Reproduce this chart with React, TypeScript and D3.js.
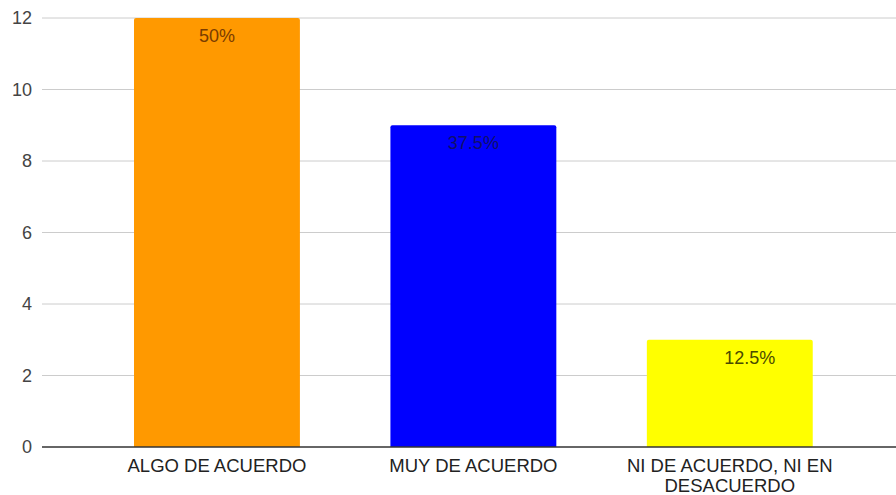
import React from "react";
import * as d3 from "d3";

const categories = ["ALGO DE ACUERDO", "MUY DE ACUERDO", "NI DE ACUERDO, NI EN DESACUERDO"];
const categoryLines = [["ALGO DE ACUERDO"], ["MUY DE ACUERDO"], ["NI DE ACUERDO, NI EN", "DESACUERDO"]];
const values = [12, 9, 3];
const percentLabels = ["50%", "37.5%", "12.5%"];
const barColors = ["#ff9900", "#0000ff", "#ffff00"];
const labelColors = ["#7a3c00", "#10106a", "#4a4a00"];
const labelOffsets = [0, 0, 20];
const yTicks = [0, 2, 4, 6, 8, 10, 12];

const W = 896;
const H = 495;
const gridLeft = 42;
const gridRight = 896;

export default function App() {
  const y = d3.scaleLinear().domain([0, 12]).range([447, 18]);
  const x = d3.scaleBand<string>().domain(categories).range([88.75, 858]).paddingInner(0.353).paddingOuter(0.1765);
  const font = "Arial, 'Liberation Sans', sans-serif";
  return (
    <svg width={W} height={H} style={{ position: "absolute", left: 0, top: 0 }} fontFamily={font}>
      <rect width={W} height={H} fill="#fff" />
      {yTicks.map((t) => (
        <g key={t}>
          {t !== 0 && (
            <line x1={gridLeft} x2={gridRight} y1={y(t)} y2={y(t)} stroke="#cccccc" strokeWidth={1} />
          )}
          <text x={32} y={y(t)} dy="0.35em" textAnchor="end" fontSize={18} fill="#444">
            {t}
          </text>
        </g>
      ))}
      {categories.map((c, i) => {
        const bx = x(c)!;
        const bw = x.bandwidth();
        const top = y(values[i]);
        return (
          <g key={c}>
            <path
              d={`M${bx},${y(0)} V${top + 2} Q${bx},${top} ${bx + 2},${top} H${bx + bw - 2} Q${bx + bw},${top} ${bx + bw},${top + 2} V${y(0)} Z`}
              fill={barColors[i]}
            />
            <text
              x={bx + bw / 2 + labelOffsets[i]}
              y={top + 24}
              textAnchor="middle"
              fontSize={18}
              fill={labelColors[i]}
            >
              {percentLabels[i]}
            </text>
            {categoryLines[i].map((ln, j) => (
              <text
                key={j}
                x={bx + bw / 2}
                y={472 + j * 19.5}
                textAnchor="middle"
                fontSize={18.5}
                fill="#222"
              >
                {ln}
              </text>
            ))}
          </g>
        );
      })}
      <line x1={gridLeft} x2={gridRight} y1={y(0)} y2={y(0)} stroke="#333" strokeWidth={1.5} />
    </svg>
  );
}
